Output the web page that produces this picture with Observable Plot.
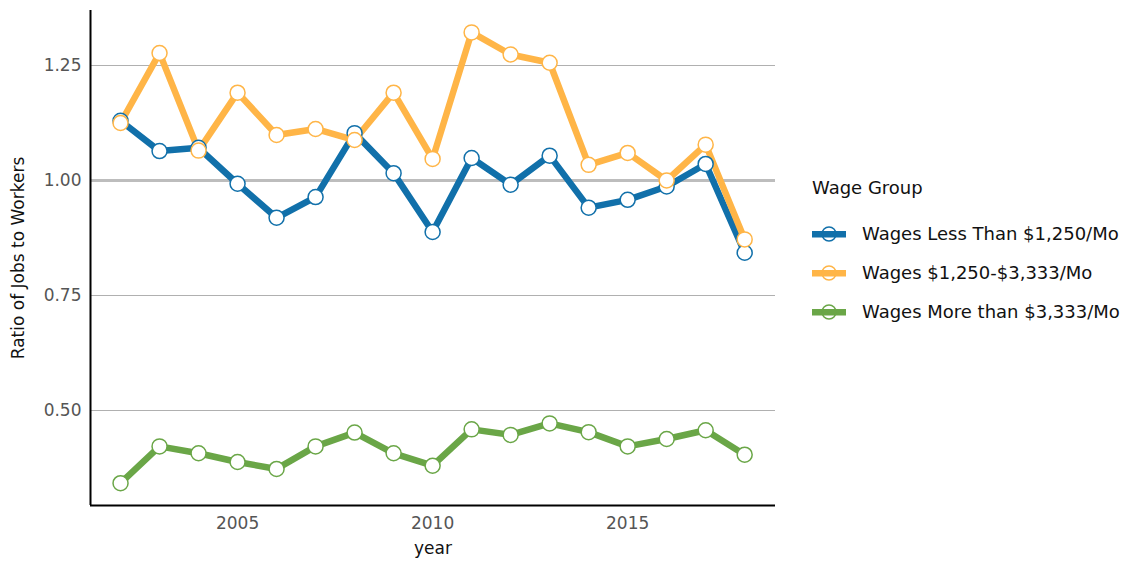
<!DOCTYPE html>
<html>
<head>
<meta charset="utf-8">
<script src="https://cdn.jsdelivr.net/npm/d3@7"></script>
<script src="https://cdn.jsdelivr.net/npm/@observablehq/plot@0.6"></script>
<style>
  body { margin: 0; background: #fff; font-family: "DejaVu Sans", sans-serif; }
  #wrap { position: relative; width: 1131px; height: 565px; }
  #legend { position: absolute; left: 812px; top: 177px; color: #111; font-size: 18px; }
  #legend .title { margin-bottom: 16px; }
  #legend .item { display: flex; align-items: center; height: 39px; }
  #legend svg { margin-right: 16px; }
</style>
</head>
<body>
<div id="wrap"><div id="chart"></div><div id="legend"></div></div>
<script>
const years = [2002,2003,2004,2005,2006,2007,2008,2009,2010,2011,2012,2013,2014,2015,2016,2017,2018];
const groups = ["Wages Less Than $1,250/Mo", "Wages $1,250-$3,333/Mo", "Wages More than $3,333/Mo"];
const colors = ["#1170aa", "#ffb547", "#6aa647"];
const lowWages  = [1.130,1.064,1.071,0.993,0.919,0.964,1.103,1.016,0.888,1.049,0.991,1.054,0.941,0.958,0.987,1.036,0.843];
const midWages  = [1.125,1.277,1.065,1.191,1.099,1.112,1.088,1.191,1.047,1.322,1.274,1.256,1.034,1.060,1.000,1.078,0.872];
const highWages = [0.342,0.422,0.407,0.388,0.373,0.422,0.452,0.407,0.380,0.459,0.447,0.472,0.453,0.422,0.438,0.457,0.404];
const yTicks = [0.50, 0.75, 1.00, 1.25];
const xTicks = [2005, 2010, 2015];
const xDomain = [2001.23, 2018.79];
const yDomain = [0.2935, 1.3696];

const series = [lowWages, midWages, highWages];
const data = [];
series.forEach((vals, gi) => vals.forEach((v, i) => data.push({year: years[i], value: v, group: groups[gi]})));

const font = "'DejaVu Sans', sans-serif";
const chart = Plot.plot({
  width: 790,
  height: 565,
  marginLeft: 90,
  marginRight: 15,
  marginTop: 10,
  marginBottom: 60,
  style: {fontFamily: font, fontSize: "16px", background: "#fff", color: "#111"},
  x: {domain: xDomain},
  y: {domain: yDomain},
  color: {domain: groups, range: colors},
  marks: [
    Plot.ruleY(yTicks.filter(d => d !== 1), {stroke: "#b0b0b0", strokeWidth: 1}),
    Plot.ruleY([1], {stroke: "#bdbdbd", strokeWidth: 3}),
    Plot.axisY({ticks: yTicks, tickSize: 0, tickPadding: 9, tickFormat: d3.format(".2f"), fill: "#555", fontSize: 17,
      label: "Ratio of Jobs to Workers", labelAnchor: "center", labelOffset: 79, labelArrow: "none"}),
    Plot.axisX({ticks: xTicks, tickSize: 0, tickPadding: 11, tickFormat: d => String(d), fill: "#555", fontSize: 17,
      label: "year", labelAnchor: "center", labelOffset: 48, labelArrow: "none"}),
    Plot.ruleX([xDomain[0]], {stroke: "#000", strokeWidth: 2}),
    Plot.ruleY([yDomain[0]], {stroke: "#000", strokeWidth: 2}),
    Plot.line(data, {x: "year", y: "value", z: "group", stroke: "group", strokeWidth: 6.5, strokeLinejoin: "round"}),
    Plot.dot(data, {x: "year", y: "value", stroke: "group", fill: "#fff", r: 7.5, strokeWidth: 1.5})
  ]
});
chart.querySelectorAll("[aria-label='y-axis tick label'], [aria-label='x-axis tick label']").forEach(g => { g.setAttribute("font-size", "17"); g.style.fontSize = "17px"; });
chart.querySelectorAll("[aria-label='y-axis label'], [aria-label='x-axis label']").forEach(g => { g.setAttribute("fill", "#111"); g.setAttribute("font-size", "17"); g.style.fontSize = "17px"; });
document.getElementById("chart").appendChild(chart);

const legend = document.getElementById("legend");
const title = document.createElement("div");
title.className = "title";
title.textContent = "Wage Group";
legend.appendChild(title);
groups.forEach((g, i) => {
  const item = document.createElement("div");
  item.className = "item";
  const ns = "http://www.w3.org/2000/svg";
  const s = document.createElementNS(ns, "svg");
  s.setAttribute("width", 34); s.setAttribute("height", 20);
  const r = document.createElementNS(ns, "rect");
  r.setAttribute("x", 0); r.setAttribute("y", 7); r.setAttribute("width", 34); r.setAttribute("height", 6.5);
  r.setAttribute("fill", colors[i]);
  const c = document.createElementNS(ns, "circle");
  c.setAttribute("cx", 17); c.setAttribute("cy", 10); c.setAttribute("r", 7);
  c.setAttribute("fill", "none"); c.setAttribute("stroke", colors[i]); c.setAttribute("stroke-width", 1.5);
  s.appendChild(r); s.appendChild(c);
  const span = document.createElement("span");
  span.textContent = g;
  item.appendChild(s); item.appendChild(span);
  legend.appendChild(item);
});
</script>
</body>
</html>
